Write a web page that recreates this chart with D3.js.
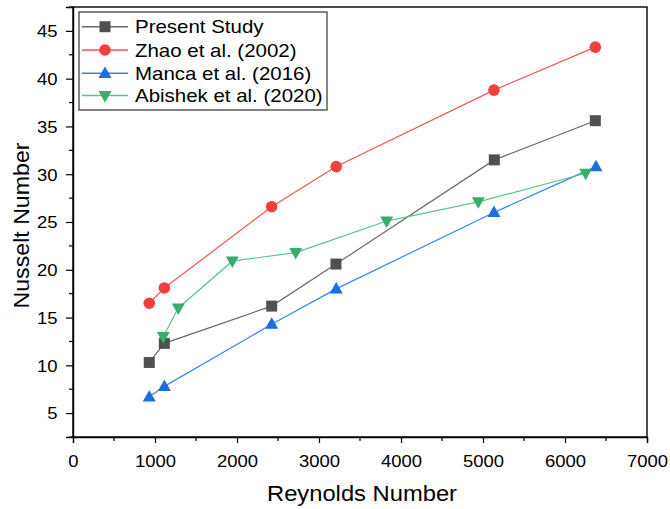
<!DOCTYPE html>
<html>
<head>
<meta charset="utf-8">
<script src="https://cdn.jsdelivr.net/npm/d3@7"></script>
<style>
  html, body { margin: 0; padding: 0; background: #fff; }
  svg { display: block; font-family: "Liberation Sans", Arial, sans-serif; }
</style>
</head>
<body>
<svg id="chart" width="670" height="509"></svg>
<script>
// Nusselt number vs Reynolds number for four studies
const presentRe = [930, 1114, 2423, 3207, 5138, 6370];
const presentNu = [10.3, 12.3, 16.2, 20.6, 31.5, 35.6];

const zhaoRe = [930, 1114, 2423, 3210, 5134, 6370];
const zhaoNu = [16.5, 18.1, 26.6, 30.8, 38.8, 43.3];

const mancaRe = [930, 1114, 2423, 3210, 5134, 6378];
const mancaNu = [6.7, 7.8, 14.3, 18.0, 26.0, 30.8];

const abishekRe = [1101, 1284, 1943, 2716, 3825, 4943, 6252];
const abishekNu = [13.0, 16.0, 20.9, 21.8, 25.1, 27.1, 30.1];

const xTicks = [0, 1000, 2000, 3000, 4000, 5000, 6000, 7000];
const yTicks = [5, 10, 15, 20, 25, 30, 35, 40, 45];

const seriesNames = ["Present Study", "Zhao et al. (2002)", "Manca et al. (2016)", "Abishek et al. (2020)"];
const markerColors = ["#515151", "#F14040", "#1A6FDF", "#37AD6B"];
const lineColors = ["#6a6a6a", "#F25555", "#3584EC", "#5FC28A"];
const markerShapes = ["square", "circle", "triangle", "triangleDown"];

const series = [
  { re: presentRe, nu: presentNu },
  { re: zhaoRe, nu: zhaoNu },
  { re: mancaRe, nu: mancaNu },
  { re: abishekRe, nu: abishekNu }
].map((s, i) => ({
  name: seriesNames[i],
  marker: markerColors[i],
  line: lineColors[i],
  shape: markerShapes[i],
  points: s.re.map((r, j) => ({ re: r, nu: s.nu[j] }))
}));

const svg = d3.select("#chart");
const L = 73, R = 647, T = 7, B = 437;
const SX = 1.12; // horizontal widening of the lettering

const x = d3.scaleLinear().domain([0, 7000]).range([L, R]);
const y = d3.scaleLinear().domain([2.5, 47.5]).range([B, T]);

// frame
svg.append("rect")
  .attr("x", L).attr("y", T).attr("width", R - L).attr("height", B - T)
  .attr("fill", "none").attr("stroke", "#000").attr("stroke-width", 1.4);

// x axis: major + minor ticks
const xAxis = d3.axisBottom(x).tickValues(xTicks).tickSize(6).tickFormat(d3.format("d"));
const gx = svg.append("g").attr("transform", `translate(0,${B})`).call(xAxis);
gx.selectAll(".tick text")
  .attr("x", null).attr("y", null).attr("dy", null)
  .attr("transform", `translate(0,30) scale(${SX},1)`);
const xMinor = d3.range(500, 7000, 1000);
gx.selectAll(".minor").data(xMinor).enter().append("line")
  .attr("class", "minor").attr("x1", d => x(d)).attr("x2", d => x(d))
  .attr("y1", 0).attr("y2", 4).attr("stroke", "#000").attr("stroke-width", 1.2);

// y axis: major + minor ticks
const yAxis = d3.axisLeft(y).tickValues(yTicks).tickSize(7).tickFormat(d3.format("d"));
const gy = svg.append("g").attr("transform", `translate(${L},0)`).call(yAxis);
gy.selectAll(".tick text")
  .attr("x", null).attr("y", null).attr("dy", null)
  .attr("transform", `translate(-15.5,5.8) scale(${SX},1)`);
const yMinor = d3.range(2.5, 47.6, 5);
gy.selectAll(".minor").data(yMinor).enter().append("line")
  .attr("class", "minor").attr("y1", d => y(d)).attr("y2", d => y(d))
  .attr("x1", 0).attr("x2", -4).attr("stroke", "#000").attr("stroke-width", 1.2);

[gx, gy].forEach(g => {
  g.select(".domain").attr("stroke", "#000").attr("stroke-width", 1.4);
  g.selectAll(".tick line").attr("stroke", "#000").attr("stroke-width", 1.2);
  g.selectAll(".tick text").attr("fill", "#000")
    .style("font-family", "'Liberation Sans', Arial, sans-serif").style("font-size", "16.5px");
});

// axis titles
svg.append("text")
  .attr("transform", `translate(${(L + R) / 2 + 2},501) scale(1.08,1)`)
  .attr("text-anchor", "middle").style("font-size", "22px").attr("fill", "#000")
  .text("Reynolds Number");
svg.append("text")
  .attr("transform", `translate(28.5,225.5) rotate(-90) scale(1.03,1)`)
  .attr("text-anchor", "middle").style("font-size", "22.5px").attr("fill", "#000")
  .text("Nusselt Number");

// marker drawing
function drawMarker(g, shape, color, cx, cy) {
  if (shape === "square") {
    g.append("rect").attr("x", cx - 5.5).attr("y", cy - 5.5).attr("width", 11).attr("height", 11).attr("fill", color);
  } else if (shape === "circle") {
    g.append("circle").attr("cx", cx).attr("cy", cy).attr("r", 5.8).attr("fill", color);
  } else if (shape === "triangle") {
    const h = 11.5, w = 13;
    g.append("path").attr("d", `M${cx},${cy - h * 0.6}L${cx + w / 2},${cy + h * 0.4}L${cx - w / 2},${cy + h * 0.4}Z`).attr("fill", color);
  } else {
    const h = 11.5, w = 13;
    g.append("path").attr("d", `M${cx},${cy + h * 0.6}L${cx + w / 2},${cy - h * 0.4}L${cx - w / 2},${cy - h * 0.4}Z`).attr("fill", color);
  }
}

const line = d3.line().x(d => x(d.re)).y(d => y(d.nu));

series.forEach(s => {
  const g = svg.append("g");
  g.append("path").datum(s.points).attr("d", line)
    .attr("fill", "none").attr("stroke", s.line).attr("stroke-width", 1.2);
  s.points.forEach(p => drawMarker(g, s.shape, s.marker, x(p.re), y(p.nu)));
});

// legend
const lg = svg.append("g");
lg.append("rect").attr("x", 79).attr("y", 12).attr("width", 248).attr("height", 98)
  .attr("fill", "#fff").attr("stroke", "#333").attr("stroke-width", 1.2);
const rowY = [26.7, 50, 73.3, 95.5];
series.forEach((s, i) => {
  const yy = rowY[i];
  lg.append("line").attr("x1", 82).attr("x2", 128).attr("y1", yy).attr("y2", yy)
    .attr("stroke", s.line).attr("stroke-width", 1.4);
  drawMarker(lg, s.shape, s.marker, 105, yy);
  lg.append("text").attr("transform", `translate(135,${yy + 6.6}) scale(1.1,1)`)
    .style("font-size", "18.6px").attr("fill", "#000")
    .text(s.name);
});
</script>
</body>
</html>
